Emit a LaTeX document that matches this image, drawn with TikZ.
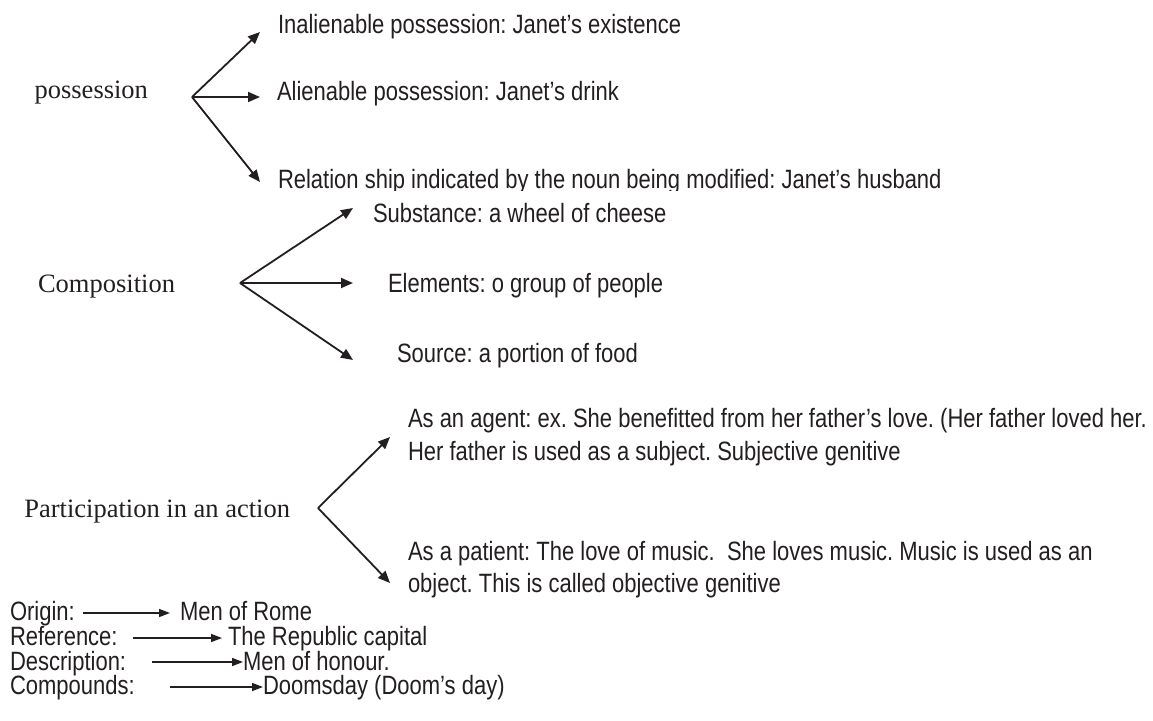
\documentclass[tikz,border=0pt]{standalone}
\usepackage{fontspec}
\setmainfont{Liberation Sans}[FakeStretch=0.83]
\newfontfamily\serifface{Liberation Serif}
\usetikzlibrary{arrows.meta}
\definecolor{ink}{RGB}{35,31,32}
\frenchspacing
\begin{document}
\begin{tikzpicture}[x=1pt,y=-1pt,
  every node/.style={inner sep=0pt, outer sep=0pt, text=ink},
  item/.style={anchor=base west, font=\fontsize{26.5}{30}\selectfont},
  head/.style={anchor=base east, font=\serifface\fontsize{26.5}{30}\selectfont},
  link/.style={draw=ink, line width=1.8pt, -{Triangle[length=12pt,width=10pt]}},
  shortlink/.style={draw=ink, line width=1.5pt, -{Triangle[length=11pt,width=8pt]}}]
\fill[white] (0,0) rectangle (1153,720);
\useasboundingbox (0,0) rectangle (1153,720);

% --- possession ---
\node[head] (poss) at (148,98) {possession};
\coordinate (pv) at (192,97);
\coordinate (pt1) at (260,32);
\coordinate (pt2) at (260,97);
\coordinate (pt3) at (260,182);
\node[item] (p1) at (278,33) {Inalienable possession: Janet’s existence};
\node[item] (p2) at (277,100) {Alienable possession: Janet’s drink};
\begin{scope}
  \clip (0,0) rectangle (1153,190);
  \node[item] (p3) at (278,188) {Relation ship indicated by the noun being modified: Janet’s husband};
\end{scope}
\draw[link] (pv) -- (pt1);
\draw[link] (pv) -- (pt2);
\draw[link] (pv) -- (pt3);

% --- composition ---
\node[head] (comp) at (175,292) {Composition};
\coordinate (cv) at (240,283);
\coordinate (ct1) at (353,208);
\coordinate (ct2) at (353,283);
\coordinate (ct3) at (353,360);
\node[item] (c1) at (373,222) {Substance: a wheel of cheese};
\node[item] (c2) at (388,292) {Elements: o group of people};
\node[item] (c3) at (397,362) {Source: a portion of food};
\draw[link] (cv) -- (ct1);
\draw[link] (cv) -- (ct2);
\draw[link] (cv) -- (ct3);

% --- participation in an action ---
\node[head] (part) at (290,517) {Participation in an action};
\coordinate (av) at (318,508);
\coordinate (at1) at (390,437);
\coordinate (at2) at (390,583);
\node[item] (a1) at (408,427) {As an agent: ex. She benefitted from her father’s love. (Her father loved her.};
\node[item] (a2) at (408,460) {Her father is used as a subject. Subjective genitive};
\node[item] (a3) at (408,560) {As a patient: The love of music.\ \ She loves music. Music is used as an};
\node[item] (a4) at (408,592) {object. This is called objective genitive};
\draw[link] (av) -- (at1);
\draw[link] (av) -- (at2);

% --- short list ---
\node[item] (o1) at (10,620) {Origin:};
\node[item] (o2) at (180,620) {Men of Rome};
\coordinate (os) at (83,613);
\coordinate (oe) at (170,613);
\draw[shortlink] (os) -- (oe);

\node[item] (r1) at (10,645) {Reference:};
\node[item] (r2) at (228,645) {The Republic capital};
\coordinate (rs) at (133,638);
\coordinate (re) at (222,638);
\draw[shortlink] (rs) -- (re);

\node[item] (d1) at (10,670) {Description:};
\node[item] (d2) at (243,670) {Men of honour.};
\coordinate (ds) at (152,662);
\coordinate (de) at (243,662);
\draw[shortlink] (ds) -- (de);

\node[item] (k1) at (10,694) {Compounds:};
\node[item] (k2) at (263,694) {Doomsday (Doom’s day)};
\coordinate (ks) at (170,687);
\coordinate (ke) at (263,687);
\draw[shortlink] (ks) -- (ke);
\end{tikzpicture}
\end{document}
